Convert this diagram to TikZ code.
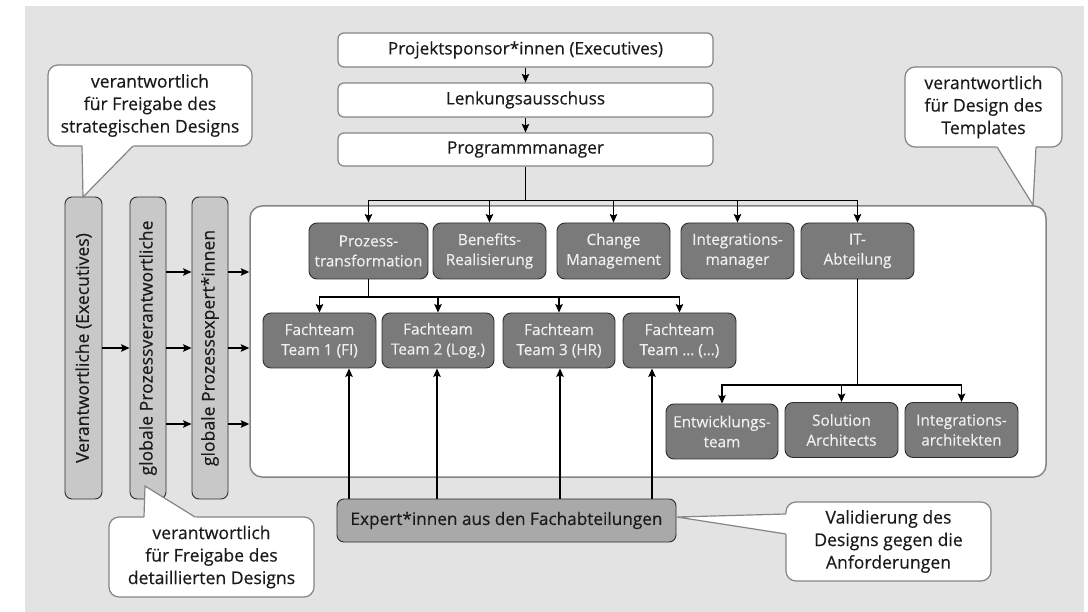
\documentclass[tikz,border=0pt]{standalone}
\usepackage{fontspec}
\setmainfont{Open Sans}[FakeBold=0.35]
\usetikzlibrary{arrows.meta}
\definecolor{bg}{HTML}{E3E3E3}
\definecolor{darkfill}{HTML}{7A7A7A}
\definecolor{midfill}{HTML}{A9A9A9}
\definecolor{lightfill}{HTML}{C8C8C8}
\definecolor{edgegrey}{HTML}{858585}
\definecolor{txt}{HTML}{1A1A1A}
\definecolor{boxedge}{HTML}{2E2E2E}
\begin{document}
\begin{tikzpicture}[x=1pt,y=-1pt,
  topbox/.style={draw=edgegrey, line width=1.2pt, fill=white, rounded corners=6pt,
    minimum width=375pt, minimum height=34pt, inner sep=0pt, text=txt,
    font=\fontsize{17.2}{20}\selectfont},
  dbox/.style={draw=boxedge, line width=0.9pt, fill=darkfill, rounded corners=8pt,
    minimum width=113pt, minimum height=56pt, inner sep=0pt, align=center,
    text=white!94!black, font=\fontsize{15.3}{20}\selectfont},
  vbox/.style={draw=boxedge, line width=0.9pt, fill=lightfill, rounded corners=7pt,
    minimum width=36pt, minimum height=302pt, inner sep=0pt},
  vtext/.style={rotate=90, text=txt, inner sep=0pt, font=\fontsize{17.6}{20}\selectfont},
  callout/.style={draw=edgegrey, line width=1.2pt, fill=white, rounded corners=10pt,
    inner sep=0pt, align=center, text=txt, font=\fontsize{17.6}{22.5}\selectfont},
  pedge/.style={draw=edgegrey, line width=1.2pt},
  conn/.style={draw=black, line width=1.1pt},
  arr/.style={conn, -{Stealth[length=8.5pt,width=7.5pt,inset=1.5pt]}}
]
\useasboundingbox (0,0) rectangle (1088,612);
\fill[white] (0,0) rectangle (1088,612);
\fill[bg] (25,6) rectangle (1084,612);

% container
\node[draw=edgegrey, line width=1.5pt, fill=white, rounded corners=12pt,
  minimum width=796pt, minimum height=271pt, inner sep=0pt] (cont) at (648,341.5) {};

% top chain
\node[topbox] (sponsor) at (525.5,50) {Projektsponsor*innen (Executives)};
\node[topbox] (lenk) at (525.5,100) {Lenkungsausschuss};
\node[topbox, minimum height=33pt] (pm) at (525.5,149.5) {Programmmanager};

% row 1
\node[dbox, minimum width=119pt] (pt) at (368.5,251) {Prozess-\\transformation};
\node[dbox] (ben) at (489.5,251) {Benefits-\\Realisierung};
\node[dbox] (chg) at (613.5,251) {Change\\Management};
\node[dbox] (int) at (737.5,251) {Integrations-\\manager};
\node[dbox] (it) at (857.5,251) {IT-\\Abteilung};

% row 2
\node[dbox, minimum height=55pt] (ft1) at (319.5,340.5) {Fachteam\\Team 1 (FI)};
\node[dbox, minimum height=55pt, minimum width=112pt] (ft2) at (438,340.5) {Fachteam\\Team 2 (Log.)};
\node[dbox, minimum height=55pt, minimum width=112pt] (ft3) at (559,340.5) {Fachteam\\Team 3 (HR)};
\node[dbox, minimum height=55pt] (ft4) at (679.5,340.5) {Fachteam\\Team … (…)};

% row 3
\node[dbox, minimum height=55pt, minimum width=112pt] (ent) at (722,431.5) {Entwicklungs-\\team};
\node[dbox, minimum height=55pt] (sol) at (841.5,430) {Solution\\Architects};
\node[dbox, minimum height=55pt] (ia) at (961.5,430) {Integrations-\\architekten};

% expert box
\node[draw=boxedge, line width=0.9pt, fill=midfill, rounded corners=7pt,
  minimum width=339pt, minimum height=43pt, inner sep=0pt, text=txt,
  font=\fontsize{17.2}{20}\selectfont] (expert) at (506.5,520.5)
  {Expert*innen aus den Fachabteilungen};

% vertical boxes
\node[vbox, minimum width=37pt] (v1) at (83.5,348) {};
\node[vtext] (v1t) at (v1.center) {Verantwortliche (Executives)};
\node[vbox] (v2) at (148,348) {};
\node[vtext] (v2t) at (v2.center) {globale Prozessverantwortliche};
\node[vbox] (v3) at (210,348) {};
\node[vtext] (v3t) at (v3.center) {globale Prozessexpert*innen};

% connectors: top chain
\draw[arr] (sponsor) -- (lenk);
\draw[arr] (lenk) -- (pm);
\coordinate (bar) at (525.5,200.5);
\draw[conn] (pm.south) -- (bar);
\foreach \n in {pt,ben,chg,int,it} \draw[arr] (bar) -| (\n.north);

\coordinate (bar2) at (368.5,297);
\draw[conn] (pt.south) -- (bar2);
\foreach \n in {ft1,ft2,ft3,ft4} \draw[arr] (bar2) -| (\n.north);

\coordinate (bar3) at (857.5,385);
\draw[conn] (it.south) -- (bar3);
\foreach \n in {ent,sol,ia} \draw[arr] (bar3) -| (\n.north);

% expert to Fachteams
\coordinate (e1) at (349,499);
\coordinate (e2) at (437,499);
\coordinate (e3) at (560,499);
\coordinate (e4) at (652,499);
\draw[arr] (e1) -- (e1 |- ft1.south);
\draw[arr] (e2) -- (e2 |- ft2.south);
\draw[arr] (e3) -- (e3 |- ft3.south);
\draw[arr] (e4) -- (e4 |- ft4.south);

% left arrows
\coordinate (r1) at (0,272);
\coordinate (r2) at (0,348);
\coordinate (r3) at (0,424);
\draw[arr] (v1.east |- r2) -- (v2.west |- r2);
\foreach \r in {r1,r2,r3} {
  \draw[arr] (v2.east |- \r) -- (v3.west |- \r);
  \draw[arr] (v3.east |- \r) -- (cont.west |- \r);
}

% callout 1 (top left)
\node[callout, minimum width=204pt, minimum height=81pt] (c1) at (150,105.5)
  {verantwortlich\\für Freigabe des\\strategischen Designs};
\coordinate (t1) at (83,197);
\fill[white] (82,140) -- (82,146) -- (t1) -- (133,146) -- (139,140) -- cycle;
\draw[pedge] (82,146) -- (t1) -- (133,146);

% callout 2 (top right)
\node[callout, minimum width=157pt, minimum height=80pt] (c2) at (983.5,107)
  {verantwortlich\\für Design des\\Templates};
\coordinate (t2) at (1033,205);
\fill[white] (991,141) -- (997,147) -- (t2) -- (1036,147) -- (1036,141) -- cycle;
\draw[pedge] (997,147) -- (t2) -- (1036,147);

% callout 3 (bottom left)
\node[callout, minimum width=205pt, minimum height=80pt] (c3) at (211.5,557)
  {verantwortlich\\für Freigabe des\\detaillierten Designs};
\coordinate (t3) at (145,486);
\fill[white] (144,523) -- (144,517) -- (t3) -- (195,517) -- (201,523) -- cycle;
\draw[pedge] (144,517) -- (t3) -- (195,517);

% callout 4 (bottom right)
\node[callout, minimum width=205pt, minimum height=79pt] (c4) at (888.5,541.5)
  {Validierung des\\Designs gegen die\\Anforderungen};
\coordinate (t4) at (677,517);
\fill[white] (792,508) -- (786,514) -- (t4) -- (786,534) -- (792,540) -- cycle;
\draw[pedge] (786,514) -- (t4) -- (786,534);
\end{tikzpicture}
\end{document}
